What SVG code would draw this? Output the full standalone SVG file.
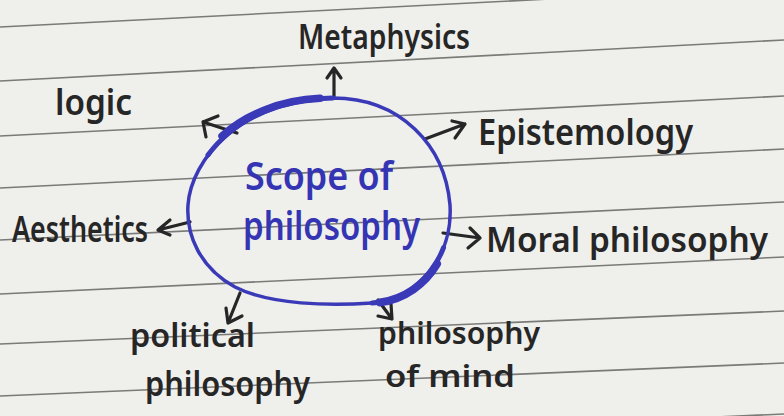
<svg xmlns="http://www.w3.org/2000/svg" width="784" height="416" viewBox="0 0 784 416">
  <defs>
    <style>
      .rule { stroke: #7a7a78; stroke-width: 1.6; fill: none; }
      .ink { font-family: "Noto Sans", "DejaVu Sans", sans-serif; font-weight: 600; fill: #262626; }
      .blue { font-family: "Noto Sans", "DejaVu Sans", sans-serif; font-weight: 600; fill: #3535b4; }
      .arrow { stroke: #262626; stroke-width: 3.2; fill: none; stroke-linecap: round; stroke-linejoin: round; }
      .ring { stroke: #3a3ab8; fill: none; stroke-linecap: round; }
    </style>
  </defs>
  <rect x="0" y="0" width="784" height="416" fill="#efefec"/>
  <g id="ruled-lines">
    <path class="rule" d="M0 27 L784 -13"/>
    <path class="rule" d="M0 81 L784 40"/>
    <path class="rule" d="M0 136 L784 96"/>
    <path class="rule" d="M0 188 L784 149"/>
    <path class="rule" d="M0 240 L784 202"/>
    <path class="rule" d="M0 294 L784 257"/>
    <path class="rule" d="M0 344 L784 311"/>
    <path class="rule" d="M0 396 L784 363"/>
    <path class="rule" d="M0 449 L784 414"/>
  </g>
  <g id="connectors">
    <path class="arrow" d="M334 97 L334 68 M327 78 L334 68 L341 78"/>
    <path class="arrow" d="M237 133 L203 122 M218 116 L203 122 L206 137"/>
    <path class="arrow" d="M425 139 L465 124 M452 121 L465 124 L455 138"/>
    <path class="arrow" d="M190 222 L158 230 M170 220 L158 230 L170 235"/>
    <path class="arrow" d="M443 233 L480 238 M470 228 L480 238 L468 248"/>
    <path class="arrow" d="M240 293 L228 323 M226 308 L228 323 L242 316"/>
    <path class="arrow" d="M378 300 L392 319 M378 316 L392 319 L391 304"/>
  </g>
  <g id="center">
    <path class="ring" stroke-width="3.5" d="M333 98 C400 98 445 145 450 205 C453 255 420 300 372 303 C330 306 270 305 235 287 C200 268 186 235 188 205 C191 160 240 100 333 98 Z"/>
    <path class="ring" stroke-width="5" d="M208 155 C230.7 124.1 272.55 99.3 333 98"/>
    <path class="ring" stroke-width="7.5" d="M222 136 C245 115 280 100 320 98.3"/>
    <path class="ring" stroke-width="5" d="M443.55 247.65 C431.85 278.22 405.6 300.9 372 303"/>
    <path class="ring" stroke-width="8" d="M437 264 C425 284 405 299 380 302.4"/>
    <text class="blue" x="245" y="190" font-size="40" textLength="148" lengthAdjust="spacingAndGlyphs">Scope of</text>
    <text class="blue" x="243" y="240" font-size="40" textLength="177" lengthAdjust="spacingAndGlyphs">philosophy</text>
  </g>
  <g id="metaphysics">
    <text class="ink" x="298" y="49" font-size="34" textLength="172" lengthAdjust="spacingAndGlyphs">Metaphysics</text>
  </g>
  <g id="logic">
    <text class="ink" x="55" y="115" font-size="36" textLength="77" lengthAdjust="spacingAndGlyphs">logic</text>
  </g>
  <g id="epistemology">
    <text class="ink" x="478" y="145" font-size="36" textLength="215" lengthAdjust="spacingAndGlyphs">Epistemology</text>
  </g>
  <g id="aesthetics">
    <text class="ink" x="12" y="242" font-size="36" textLength="136" lengthAdjust="spacingAndGlyphs">Aesthetics</text>
  </g>
  <g id="moral-philosophy">
    <text class="ink" x="486" y="252" font-size="34" textLength="282" lengthAdjust="spacingAndGlyphs">Moral philosophy</text>
  </g>
  <g id="political-philosophy">
    <text class="ink" x="130" y="347" font-size="32" textLength="125" lengthAdjust="spacingAndGlyphs">political</text>
    <text class="ink" x="145" y="396" font-size="34" textLength="165" lengthAdjust="spacingAndGlyphs">philosophy</text>
  </g>
  <g id="philosophy-of-mind">
    <text class="ink" x="378" y="344" font-size="30" textLength="162" lengthAdjust="spacingAndGlyphs">philosophy</text>
    <text class="ink" x="385" y="387" font-size="30" textLength="130" lengthAdjust="spacingAndGlyphs">of mind</text>
  </g>
</svg>
